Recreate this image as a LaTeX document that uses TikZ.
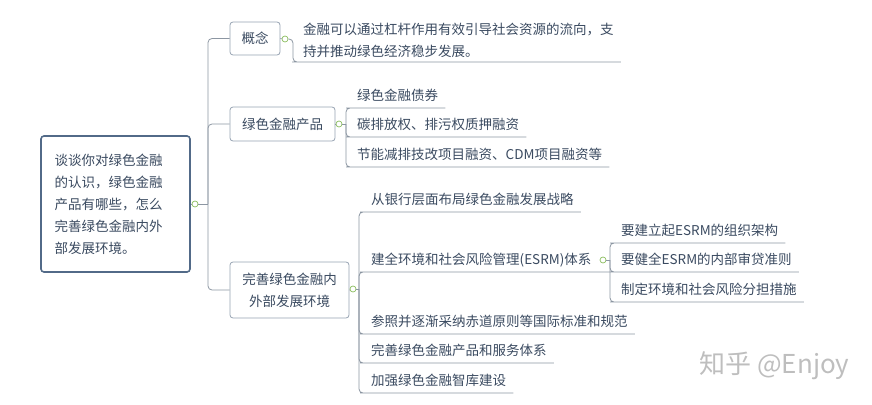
\documentclass[tikz,border=0pt]{standalone}
\usepackage{fontspec}
\setmainfont{Noto Sans CJK SC}
\usepackage{tikz}

\definecolor{inkc}{RGB}{58,74,96}
\definecolor{boxc}{RGB}{150,163,178}
\definecolor{rootc}{RGB}{82,106,136}
\definecolor{linkc}{RGB}{140,150,162}
\definecolor{knobc}{RGB}{140,190,95}
\definecolor{wmc}{RGB}{190,190,190}

\begin{document}
\begin{tikzpicture}[x=1pt,y=-1pt,
		font=\fontsize{13.5}{22}\selectfont,
		every node/.style={text=inkc},
		box/.style={draw=boxc, rounded corners=3pt, fill=white, line width=0.8pt, align=center, inner sep=0pt},
		leaf/.style={anchor=south west, inner xsep=7pt, inner ysep=4pt, text height=11pt, text depth=3pt},
		link/.style={draw=linkc, line width=0.8pt, rounded corners=4pt},
		knob/.style={circle, draw=knobc, fill=white, line width=0.7pt, inner sep=0pt, minimum size=6pt}]
					\useasboundingbox (0,0) rectangle (872,404);
					% root and first level
					\node[box, draw=rootc, line width=1.6pt, minimum width=149pt, minimum height=136pt, text width=122pt, align=left] (root) at (115.5,204) {谈谈你对绿色金融\\的认识，绿色金融\\产品有哪些，怎么\\完善绿色金融内外\\部发展环境。};
					\node[box, minimum width=50pt, minimum height=33pt] (gn) at (255,38.5) {概念};
					\node[box, minimum width=105pt, minimum height=34pt] (cp) at (282.5,124) {绿色金融产品};
					\node[box, minimum width=119pt, minimum height=56pt] (hj) at (289.5,290) {完善绿色金融内\\外部发展环境};
					\node[knob] (rk) at (195,204) {};
					\node[knob] (k1) at (285,39) {};
					\node[knob] (k2) at (339,124) {};
					\node[knob] (k3) at (353,289) {};
					\coordinate (tr) at (208,204);
					\draw[link] (root.east) -- (rk);
					\draw[link] (rk) -- (tr);
					\foreach \t in {gn,cp,hj}
					\draw[link] (tr) |- (\t.west);
					\foreach \t/\k in {gn/k1,cp/k2,hj/k3}
					\draw[link] (\t.east) -- (\k);
					% gainian
					\coordinate (b1) at (293,39);
					\node[anchor=south west, inner xsep=7pt, inner ysep=4pt, align=left] (df) at (296,62) {金融可以通过杠杆作用有效引导社会资源的流向，支\\持并推动绿色经济稳步发展。};
					\draw[link] (k1) -- (b1) |- (df.south west) -- (df.south east);
					% chanpin
					\coordinate (b2) at (346,124);
					\node[leaf] (p1) at (350,108) {绿色金融债券};
					\node[leaf] (p2) at (350,137) {碳排放权、排污权质押融资};
					\node[leaf] (p3) at (350,167) {节能减排技改项目融资、CDM项目融资等};
					\draw[link] (k2) -- (b2);
					\foreach \c in {p1,p2,p3}
					\draw[link] (b2) |- (\c.south west) -- (\c.south east);
					% huanjing
					\coordinate (b3) at (359,289);
					\coordinate (b4) at (610,260);
					\node[leaf] (e1) at (364,212) {从银行层面布局绿色金融发展战略};
					\node[leaf] (e2) at (364,272) {建全环境和社会风险管理(ESRM)体系};
					\node[leaf] (e3) at (364,334) {参照并逐渐采纳赤道原则等国际标准和规范};
					\node[leaf] (e4) at (364,363) {完善绿色金融产品和服务体系};
					\node[leaf] (e5) at (364,393) {加强绿色金融智库建设};
					\draw[link] (k3) -- (b3);
					\foreach \c in {e1,e3,e4,e5}
					\draw[link] (b3) |- (\c.south west) -- (\c.south east);
					\draw[link] (b3) |- (e2.south west) -- (e2.south west -| b4);
					% esrm
					\node[knob] (k4) at (603,260) {};
					\node[leaf] (s1) at (614,243) {要建立起ESRM的组织架构};
					\node[leaf] (s2) at (614,272) {要健全ESRM的内部审贷准则};
					\node[leaf] (s3) at (614,302) {制定环境和社会风险分担措施};
					\draw[link] (k4) -- (b4);
					\foreach \c in {s1,s2,s3}
					\draw[link] (b4) |- (\c.south west) -- (\c.south east);
					\node[text=wmc, font=\fontsize{26}{26}\selectfont, anchor=west] (wm) at (696,366) {知乎 @Enjoy};
				\end{tikzpicture}
\end{document}
